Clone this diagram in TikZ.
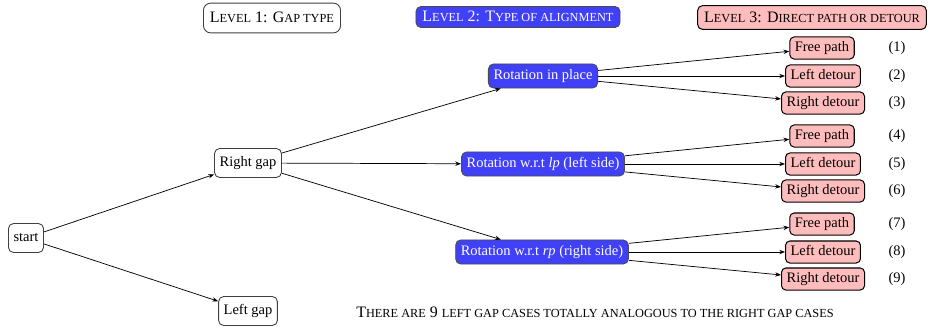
\documentclass[tikz,border=0pt]{standalone}
\usepackage{fontspec}
\setmainfont{Liberation Serif}
\usetikzlibrary{arrows.meta}
\definecolor{nodeblue}{RGB}{64,64,248}
\definecolor{nodepink}{RGB}{255,188,188}
\newcommand{\fbig}{\fontsize{11}{13}\selectfont}
\newcommand{\fsm}{\fontsize{8.5}{10}\selectfont}
\begin{document}
\begin{tikzpicture}[x=0.69pt,y=-0.69pt,
  base/.style={rounded corners=3.5pt, line width=0.6pt, text height=7pt, text depth=2pt},
  gapnode/.style={base, draw=black!75, fill=white, inner xsep=3.5pt, inner ysep=5.5pt},
  rotnode/.style={base, draw=black!70, fill=nodeblue, text=white, inner xsep=3.5pt, inner ysep=3.8pt},
  leaf/.style={base, rounded corners=3pt, draw=black, line width=0.7pt, fill=nodepink, inner xsep=3.5pt, inner ysep=3.1pt},
  hdr/.style={base, font=\fbig, text height=7.5pt, text depth=1pt},
  hdrone/.style={hdr, draw=black!75, fill=white, inner xsep=4.5pt, inner ysep=6pt, rounded corners=5pt},
  hdrtwo/.style={hdr, draw=black!70, fill=nodeblue, text=white, inner xsep=4.5pt, inner ysep=3pt},
  hdrthree/.style={hdr, draw=black, line width=0.7pt, fill=nodepink, inner xsep=4.5pt, inner ysep=4pt},
  casenum/.style={inner sep=0pt, text height=7pt, text depth=2pt},
  edge/.style={-{Stealth[length=4pt,width=3pt]}, line width=0.5pt}]
\useasboundingbox (0,0) rectangle (930,331);

% headers
\node[hdrone] (h1) at (272,18) {L{\fsm EVEL} 1: G{\fsm AP TYPE}};
\node[hdrtwo] (h2) at (518,17) {L{\fsm EVEL} 2: T{\fsm YPE OF ALIGNMENT}};
\node[hdrthree] (h3) at (812,17.5) {L{\fsm EVEL} 3: D{\fsm IRECT PATH OR DETOUR}};

% level nodes
\node[gapnode] (start) at (26,238) {start};
\node[gapnode] (rg) at (248,163) {Right gap};
\node[gapnode] (lg) at (248,311) {Left gap};

\node[rotnode] (r1) at (543,76) {Rotation in place};
\node[rotnode] (r2) at (543,164) {Rotation w.r.t \textit{lp} (left side)};
\node[rotnode] (r3) at (542,252) {Rotation w.r.t \textit{rp} (right side)};

\node[leaf] (a1) at (822,48) {Free path};
\node[leaf] (a2) at (823,76) {Left detour};
\node[leaf] (a3) at (823,103) {Right detour};
\node[leaf] (b1) at (822,136) {Free path};
\node[leaf] (b2) at (823,164) {Left detour};
\node[leaf] (b3) at (823,191) {Right detour};
\node[leaf] (c1) at (822,224) {Free path};
\node[leaf] (c2) at (823,252) {Left detour};
\node[leaf] (c3) at (823,279) {Right detour};

\node[casenum] (n1) at (897,48) {(1)};
\node[casenum] (n2) at (897,76) {(2)};
\node[casenum] (n3) at (897,103) {(3)};
\node[casenum] (n4) at (897,136) {(4)};
\node[casenum] (n5) at (897,164) {(5)};
\node[casenum] (n6) at (897,191) {(6)};
\node[casenum] (n7) at (897,224) {(7)};
\node[casenum] (n8) at (897,252) {(8)};
\node[casenum] (n9) at (897,279) {(9)};

\node[inner sep=0pt, font=\fbig] (note) at (595,312) {T{\fsm HERE ARE} 9 {\fsm LEFT GAP CASES TOTALLY ANALOGOUS TO THE RIGHT GAP CASES}};

% edges
\draw[edge] (start) -- (rg);
\draw[edge] (start) -- (lg);
\draw[edge] (rg) -- (r1);
\draw[edge] (rg) -- (r2);
\draw[edge] (rg) -- (r3);
\draw[edge] (r1) -- (a1);
\draw[edge] (r1) -- (a2);
\draw[edge] (r1) -- (a3);
\draw[edge] (r2) -- (b1);
\draw[edge] (r2) -- (b2);
\draw[edge] (r2) -- (b3);
\draw[edge] (r3) -- (c1);
\draw[edge] (r3) -- (c2);
\draw[edge] (r3) -- (c3);
\end{tikzpicture}
\end{document}
